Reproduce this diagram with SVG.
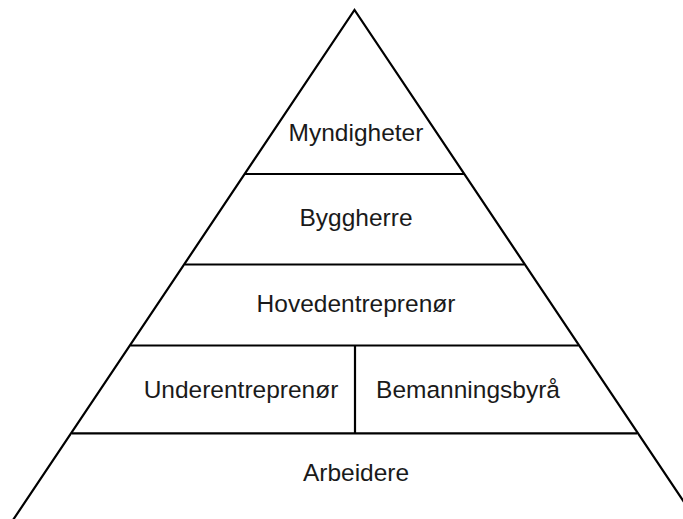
<svg xmlns="http://www.w3.org/2000/svg" width="683" height="519" viewBox="0 0 683 519">
  <style>
    .edge { fill: none; stroke: #000; stroke-width: 2.2; stroke-linecap: butt; }
    .lbl { font-family: "Liberation Sans", Arial, sans-serif; font-size: 24.5px; fill: #1a1a1a; text-anchor: middle; }
  </style>
  <rect width="683" height="519" fill="#fff"/>
  <g id="connectors">
    <path class="edge" d="M13,520 L354.5,10 L696,520"/>
    <line class="edge" x1="245" y1="174" x2="464" y2="174"/>
    <line class="edge" x1="185" y1="264.5" x2="524" y2="264.5"/>
    <line class="edge" x1="130.5" y1="345.5" x2="578.5" y2="345.5"/>
    <line class="edge" x1="72" y1="433.3" x2="637" y2="433.3"/>
    <line class="edge" x1="355" y1="345.5" x2="355" y2="433.3"/>
  </g>
  <g id="myndigheter"><text class="lbl" x="356" y="141">Myndigheter</text></g>
  <g id="byggherre"><text class="lbl" x="356" y="226">Byggherre</text></g>
  <g id="hovedentreprenor"><text class="lbl" x="356" y="312">Hovedentreprenør</text></g>
  <g id="underentreprenor"><text class="lbl" x="241" y="398">Underentreprenør</text></g>
  <g id="bemanningsbyra"><text class="lbl" x="468" y="398">Bemanningsbyrå</text></g>
  <g id="arbeidere"><text class="lbl" x="356" y="481">Arbeidere</text></g>
</svg>
